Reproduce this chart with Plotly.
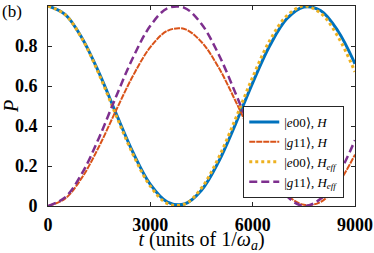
import plotly.graph_objects as go

t = [0, 500, 1000, 1500, 2000, 2500, 3000, 3500, 4000, 4500,
     5000, 5500, 6000, 6500, 7000, 7500, 8000, 8500, 9000]
e00_H = [1.0, 0.958, 0.839, 0.664, 0.461, 0.265, 0.108, 0.020, 0.010, 0.079,
         0.221, 0.411, 0.616, 0.801, 0.936, 0.995, 0.976, 0.875, 0.711]
g11_H = [0.0, 0.037, 0.143, 0.299, 0.480, 0.654, 0.794, 0.876, 0.885, 0.820,
         0.693, 0.524, 0.342, 0.177, 0.057, 0.006, 0.021, 0.111, 0.257]
e00_Heff = [1.0, 0.957, 0.836, 0.657, 0.451, 0.255, 0.099, 0.012, 0.009, 0.090,
            0.241, 0.437, 0.644, 0.827, 0.951, 1.000, 0.963, 0.847, 0.671]
g11_Heff = [0.0, 0.043, 0.164, 0.343, 0.549, 0.745, 0.901, 0.988, 0.991, 0.910,
            0.759, 0.563, 0.356, 0.173, 0.049, 0.000, 0.037, 0.153, 0.329]

x_ticks = [0, 3000, 6000, 9000]
y_ticks = [0, 0.2, 0.4, 0.6, 0.8, 1]
y_ticklabels = ["0", "0.2", "0.4", "0.6", "0.8", "1"]

serif = "Liberation Serif"

fig = go.Figure()
fig.add_trace(go.Scatter(x=t, y=e00_H, mode="lines", line_shape="spline",
                         line=dict(color="#0072BD", width=3),
                         name="|<i>e</i>00⟩, <i>H</i>"))
fig.add_trace(go.Scatter(x=t, y=g11_H, mode="lines", line_shape="spline",
                         line=dict(color="#D95319", width=2, dash="6px,1px"),
                         name="|<i>g</i>11⟩, <i>H</i>"))
fig.add_trace(go.Scatter(x=t, y=e00_Heff, mode="lines", line_shape="spline",
                         line=dict(color="#EDB120", width=3, dash="3px,3px"),
                         name="|<i>e</i>00⟩, <i>H</i><sub><i>eff</i></sub>"))
fig.add_trace(go.Scatter(x=t, y=g11_Heff, mode="lines", line_shape="spline",
                         line=dict(color="#7E2F8E", width=2.5, dash="8px,4px"),
                         name="|<i>g</i>11⟩, <i>H</i><sub><i>eff</i></sub>"))

axis_common = dict(showline=True, linecolor="#262626", linewidth=1, mirror="ticks",
                   ticks="inside", ticklen=4, tickcolor="#262626", showgrid=False,
                   zeroline=False, automargin=False,
                   tickfont=dict(family=serif, size=18, color="#000000"))

fig.update_xaxes(range=[0, 9000], tickvals=x_ticks,
                 ticktext=["<b>%d</b>" % v for v in x_ticks],
                 title=dict(text="<i>t</i> (units of 1/<i>ω</i><sub><i>a</i></sub>)",
                            font=dict(family=serif, size=20, color="#000000"), standoff=4),
                 ticklabelstandoff=2,
                 **axis_common)
fig.update_yaxes(range=[0, 1], tickvals=y_ticks,
                 ticktext=["<b>%s</b>" % s for s in y_ticklabels],
                 title=dict(text="<i>P</i>", font=dict(family=serif, size=20, color="#000000"),
                            standoff=0),
                 ticklabelstandoff=6,
                 **axis_common)

fig.add_annotation(text="(b)", xref="paper", yref="paper", x=-0.156, y=0.975,
                   xanchor="left", yanchor="middle", showarrow=False,
                   font=dict(family=serif, size=17, color="#000000"))

fig.update_layout(
    width=374, height=253,
    margin=dict(l=48, r=19, t=6, b=47, autoexpand=False),
    paper_bgcolor="white", plot_bgcolor="white",
    showlegend=True,
    legend=dict(x=0.965, y=0.04, xanchor="right", yanchor="bottom",
                bgcolor="white", bordercolor="#262626", borderwidth=1,
                font=dict(family=serif, size=13, color="#000000"),
                itemwidth=30, tracegroupgap=0),
)

fig.write_html("out.html", config={"displayModeBar": False},
               post_script="document.body.style.margin='0';document.body.style.padding='0';")
